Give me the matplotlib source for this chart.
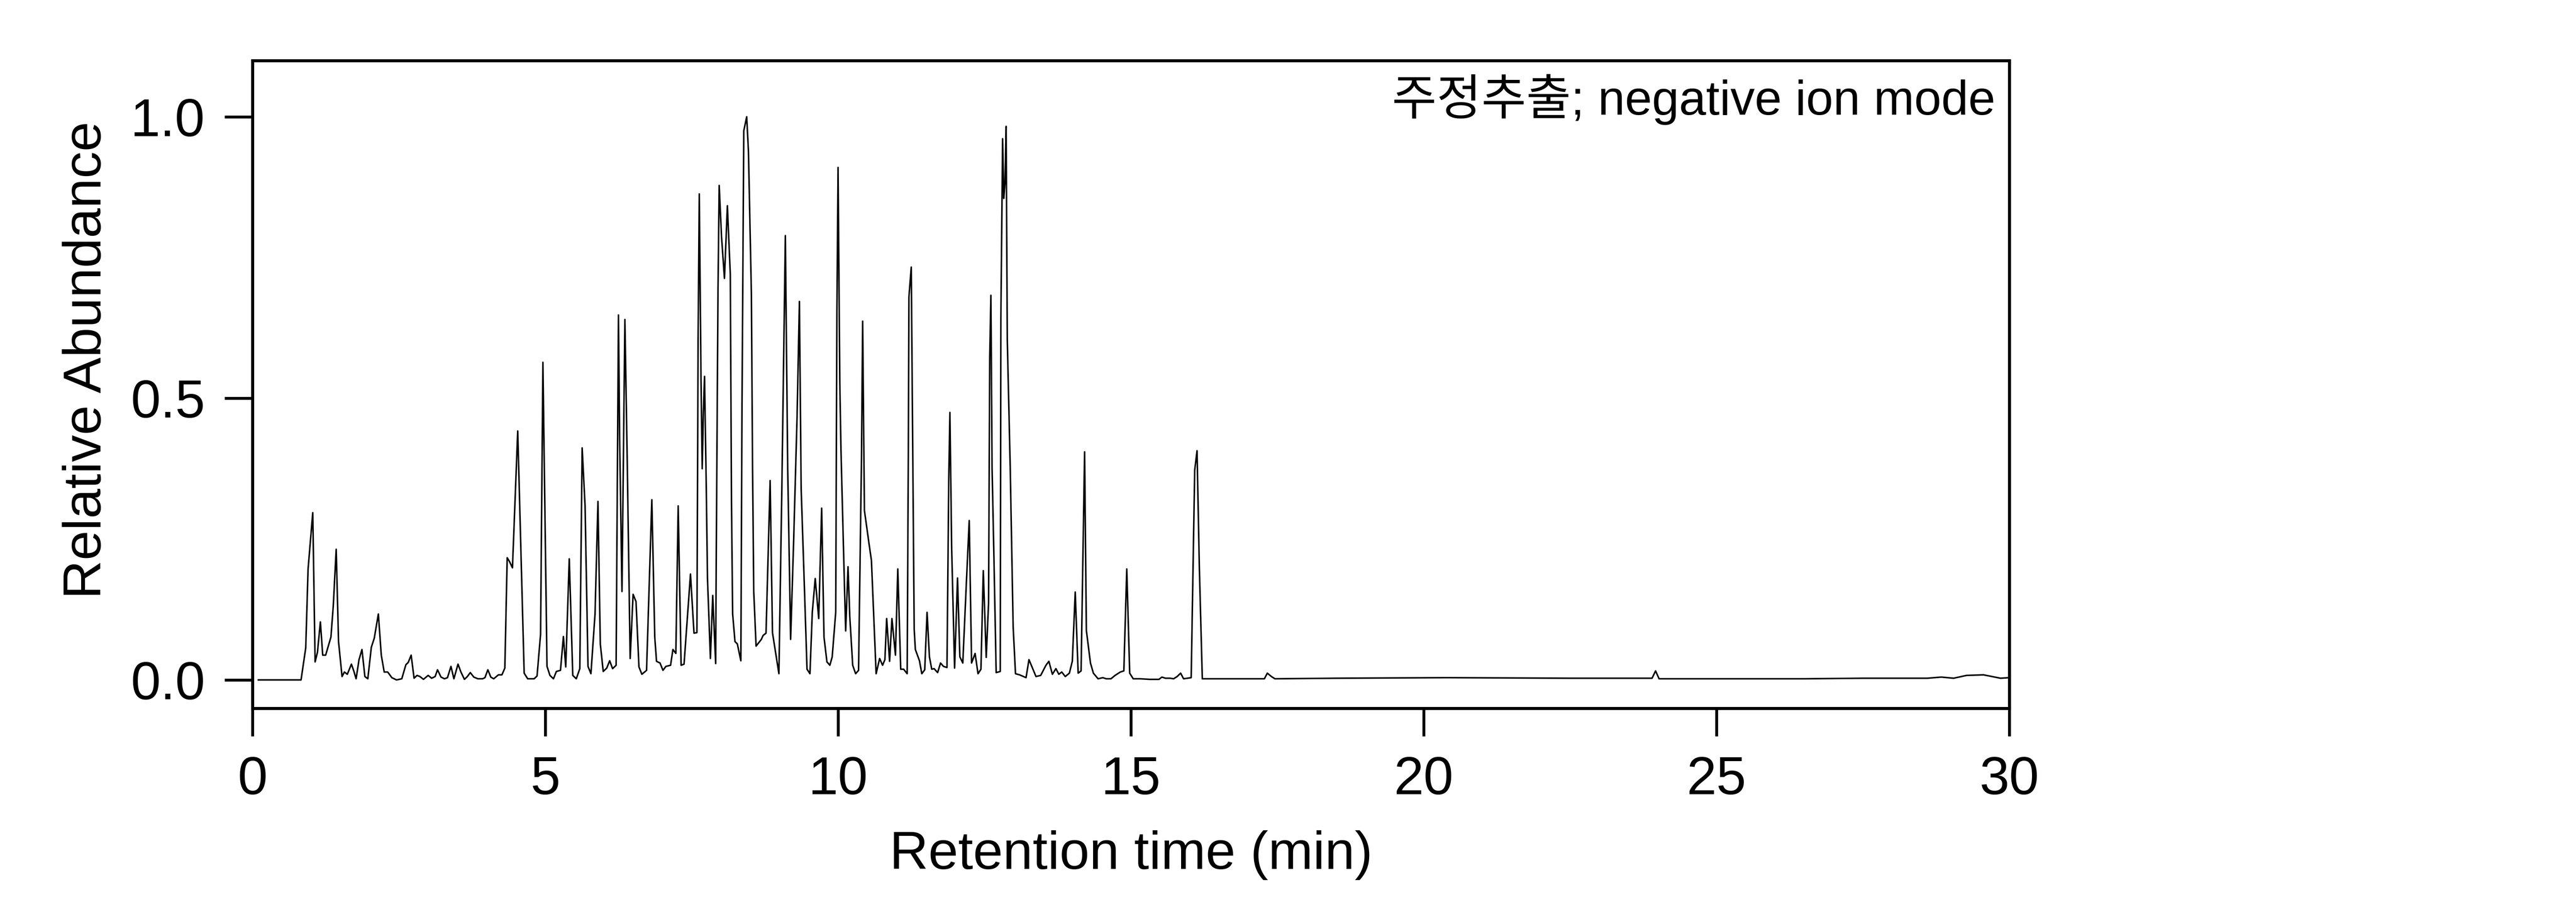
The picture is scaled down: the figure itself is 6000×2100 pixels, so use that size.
import numpy as np
import matplotlib
matplotlib.use("Agg")
from matplotlib import pyplot as plt

plt.rcParams['font.family'] = ['Liberation Sans', 'Noto Sans CJK KR', 'DejaVu Sans']

# retention time (min) and relative abundance in segments
rt_a = [0.10, 0.83, 0.91, 0.95, 1.03, 1.07, 1.11, 1.16, 1.20, 1.25, 1.34, 1.38, 1.43, 1.47,
        1.53, 1.57, 1.62, 1.69, 1.73, 1.77, 1.82, 1.87, 1.92, 1.97, 2.03, 2.08, 2.15, 2.20,
        2.25, 2.31, 2.38, 2.46, 2.55, 2.62, 2.66, 2.71, 2.76, 2.81, 2.86, 2.92, 3.00, 3.06,
        3.12, 3.16, 3.22, 3.28, 3.33, 3.39, 3.44, 3.51, 3.56, 3.62, 3.67, 3.72, 3.78, 3.85,
        3.93, 3.97, 4.02, 4.07]
ab_a = [0.0, 0.0, 0.057, 0.197, 0.297, 0.032, 0.049, 0.103, 0.044, 0.044, 0.076, 0.131, 0.232, 0.068,
        0.006, 0.014, 0.010, 0.028, 0.016, 0.002, 0.036, 0.054, 0.006, 0.002, 0.058, 0.074, 0.117, 0.044,
        0.014, 0.014, 0.004, 0.0, 0.002, 0.027, 0.031, 0.044, 0.003, 0.008, 0.006, 0.001, 0.008, 0.003,
        0.006, 0.018, 0.005, 0.002, 0.004, 0.024, 0.002, 0.028, 0.014, 0.001, 0.006, 0.013, 0.005, 0.002,
        0.002, 0.004, 0.018, 0.005]

rt_b = [4.12, 4.20, 4.26, 4.31, 4.35, 4.39, 4.44, 4.53, 4.64, 4.70, 4.81, 4.86, 4.92, 4.96,
        5.03, 5.08, 5.14, 5.19, 5.26, 5.31, 5.35, 5.41, 5.47, 5.53, 5.59, 5.63, 5.68, 5.73,
        5.78, 5.85, 5.90, 5.94, 5.99, 6.05, 6.10, 6.15, 6.21, 6.25, 6.27, 6.31, 6.36, 6.40,
        6.45, 6.50, 6.55, 6.60, 6.65, 6.73, 6.82, 6.87, 6.90, 6.96, 7.01, 7.06, 7.14, 7.18, 7.23]
ab_b = [0.002, 0.009, 0.009, 0.021, 0.217, 0.210, 0.199, 0.442, 0.012, 0.002, 0.002, 0.007, 0.081, 0.564,
        0.024, 0.008, 0.002, 0.015, 0.017, 0.077, 0.023, 0.215, 0.008, 0.002, 0.020, 0.412, 0.309, 0.024,
        0.011, 0.117, 0.317, 0.064, 0.015, 0.021, 0.034, 0.020, 0.026, 0.648, 0.430, 0.157, 0.640, 0.388,
        0.038, 0.152, 0.139, 0.023, 0.010, 0.017, 0.320, 0.076, 0.033, 0.030, 0.017, 0.024, 0.026, 0.054, 0.047]

rt_c = [7.27, 7.32, 7.37, 7.48, 7.54, 7.59, 7.61, 7.63, 7.66, 7.68, 7.70, 7.72, 7.75, 7.77,
        7.82, 7.86, 7.91, 7.92, 7.95, 7.97, 8.01, 8.06, 8.11, 8.16, 8.18, 8.20, 8.24, 8.28,
        8.34, 8.36, 8.39, 8.44, 8.47, 8.52, 8.54, 8.56, 8.60, 8.69, 8.72, 8.77, 8.84, 8.88,
        8.99, 9.04, 9.10, 9.14, 9.19, 9.24, 9.30, 9.34, 9.37, 9.42, 9.47, 9.52, 9.56, 9.61,
        9.67, 9.72, 9.76, 9.81, 9.86, 9.90, 9.96, 9.98, 10.00, 10.03, 10.05, 10.10, 10.13,
        10.17, 10.20, 10.25, 10.30, 10.35, 10.40]
ab_c = [0.309, 0.026, 0.028, 0.188, 0.083, 0.084, 0.603, 0.863, 0.535, 0.375, 0.475, 0.539, 0.339, 0.181,
        0.038, 0.150, 0.029, 0.218, 0.693, 0.878, 0.787, 0.713, 0.842, 0.720, 0.317, 0.117, 0.068, 0.064,
        0.034, 0.490, 0.975, 1.000, 0.938, 0.686, 0.377, 0.158, 0.060, 0.072, 0.079, 0.083, 0.354, 0.084,
        0.011, 0.339, 0.789, 0.377, 0.072, 0.241, 0.467, 0.672, 0.339, 0.181, 0.019, 0.011, 0.120, 0.180,
        0.109, 0.305, 0.076, 0.032, 0.026, 0.041, 0.120, 0.648, 0.910, 0.527, 0.407, 0.204, 0.087,
        0.201, 0.113, 0.026, 0.011, 0.017, 0.392]

rt_d = [10.42, 10.45, 10.53, 10.57, 10.65, 10.71, 10.76, 10.80, 10.83, 10.88, 10.92, 10.98, 11.02,
        11.07, 11.12, 11.18, 11.20, 11.21, 11.25, 11.27, 11.30, 11.32, 11.39, 11.43, 11.48, 11.52,
        11.56, 11.60, 11.64, 11.70, 11.75, 11.80, 11.86, 11.89, 11.91, 11.94, 11.99, 12.04, 12.08,
        12.13, 12.19, 12.24, 12.28, 12.34, 12.39, 12.44, 12.48, 12.53, 12.57, 12.59, 12.61, 12.63,
        12.66, 12.70, 12.77, 12.78, 12.81, 12.83, 12.85, 12.87, 12.89, 12.94, 12.99, 13.03, 13.10,
        13.21, 13.26, 13.38, 13.46, 13.55, 13.60, 13.66, 13.72]
ab_d = [0.637, 0.301, 0.241, 0.212, 0.011, 0.038, 0.026, 0.036, 0.109, 0.033, 0.109, 0.044, 0.197,
        0.019, 0.019, 0.011, 0.400, 0.680, 0.733, 0.475, 0.090, 0.054, 0.034, 0.011, 0.018, 0.120,
        0.041, 0.019, 0.020, 0.013, 0.030, 0.024, 0.022, 0.354, 0.475, 0.234, 0.021, 0.181, 0.041,
        0.030, 0.170, 0.283, 0.030, 0.047, 0.011, 0.019, 0.194, 0.040, 0.136, 0.573, 0.683, 0.377,
        0.226, 0.013, 0.015, 0.641, 0.961, 0.855, 0.882, 0.983, 0.603, 0.377, 0.094, 0.011, 0.009,
        0.004, 0.036, 0.006, 0.008, 0.026, 0.033, 0.010, 0.020]

rt_e = [13.77, 13.82, 13.88, 13.95, 14.00, 14.05, 14.10, 14.15, 14.21, 14.24, 14.31, 14.36, 14.44,
        14.52, 14.58, 14.66, 14.73, 14.82, 14.88, 14.93, 14.98, 15.04, 15.16, 15.32, 15.48, 15.53,
        15.59, 15.67, 15.73, 15.79, 15.85, 15.90, 16.03, 16.09, 16.13, 16.17, 16.22, 16.59, 17.06,
        17.28, 17.33, 17.40, 17.46, 18.50, 20.40, 22.50, 23.90, 23.96, 24.02, 25.00, 26.50, 27.50,
        28.60, 28.84, 29.05, 29.27, 29.56, 29.85, 30.00]
ab_e = [0.010, 0.014, 0.006, 0.012, 0.033, 0.156, 0.012, 0.016, 0.405, 0.088, 0.030, 0.012, 0.002,
        0.004, 0.002, 0.002, 0.008, 0.014, 0.016, 0.197, 0.012, 0.002, 0.002, 0.001, 0.001, 0.005,
        0.003, 0.003, 0.002, 0.006, 0.012, 0.002, 0.004, 0.372, 0.407, 0.197, 0.002, 0.002, 0.002,
        0.002, 0.012, 0.006, 0.002, 0.003, 0.004, 0.003, 0.003, 0.016, 0.002, 0.002, 0.002, 0.003,
        0.003, 0.005, 0.003, 0.008, 0.009, 0.003, 0.004]

x_ticks = [0, 5, 10, 15, 20, 25, 30]
y_ticks = [0.0, 0.5, 1.0]
sample_label = "주정추출; negative ion mode"

rt = np.concatenate([rt_a, rt_b, rt_c, rt_d, rt_e])
ab = np.concatenate([ab_a, ab_b, ab_c, ab_d, ab_e])

fig = plt.figure(figsize=(20, 7), dpi=300)
ax = fig.add_axes([0.098, 0.215, 0.682, 0.718])

ax.plot(rt, ab, color='k', lw=0.85)

ax.set_xlim(0, 30)
ax.set_ylim(-0.05, 1.1)
ax.set_xticks(x_ticks)
ax.set_yticks(y_ticks)
ax.set_yticklabels([f"{v:.1f}" for v in y_ticks])
ax.tick_params(direction='out', length=15.5, width=1.6, labelsize=30, pad=11,
               top=False, right=False)
for sp in ax.spines.values():
    sp.set_linewidth(1.7)

ax.set_xlabel("Retention time (min)", fontsize=30, labelpad=14)
ax.set_ylabel("Relative Abundance", fontsize=30)
ax.yaxis.set_label_coords(-0.080, 0.5375)

ax.text(0.992, 0.916, sample_label, transform=ax.transAxes, ha='right', va='baseline',
        fontsize=27.2)

plt.savefig("out.png", dpi=300)
